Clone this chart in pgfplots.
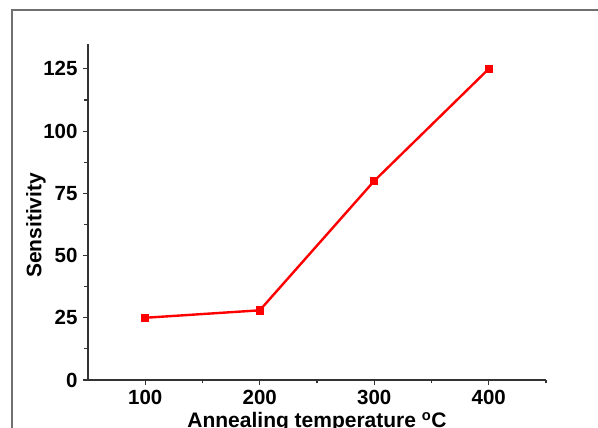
\documentclass[border=0pt]{standalone}
\usepackage{fontspec}
\setmainfont{Liberation Sans}
\usepackage{pgfplots}
\pgfplotsset{compat=1.18}
\definecolor{frame}{HTML}{707070}
\definecolor{axcol}{HTML}{333333}
\begin{document}
\begin{tikzpicture}[x=1pt,y=1pt]
\useasboundingbox (0,0) rectangle (598,428);
\clip (0,0) rectangle (598,428);
% outer frame (only left and top edges fall inside the image)
\draw[frame, line width=1.3pt] (12,0) -- (12,418) -- (600,418);
\begin{axis}[
  at={(88pt,48pt)}, anchor=south west,
  scale only axis, width=458pt, height=336pt,
  xmin=50, xmax=450, ymin=0, ymax=135,
  axis x line*=bottom, axis y line*=left,
  axis line style={axcol, line width=1.5pt},
  xtick={100,200,300,400}, minor xtick={150,250,350,450},
  ytick={0,25,...,125}, minor ytick={12.5,37.5,...,112.5},
  tick align=outside,
  major tick length=5pt, minor tick length=3.5pt,
  tick style={axcol, line width=1.2pt},
  /pgf/number format/assume math mode=true,
  tick label style={font=\fontsize{20.5}{20.5}\selectfont\bfseries, text=black},
  xticklabel style={yshift=-2pt},
  yticklabel style={xshift=-2pt},
  xlabel={Annealing temperature \textsuperscript{o}C},
  ylabel={Sensitivity},
  label style={font=\fontsize{21}{21}\selectfont\bfseries},
  xlabel style={at={(axis description cs:0.5,0)}, anchor=north, yshift=-29pt},
  ylabel style={at={(axis description cs:0,0.46)}, anchor=center, yshift=52pt},
  clip=false,
]
\addplot[red, line width=2.4pt, mark=square*, mark size=3.7pt,
  mark options={solid, fill=red, draw=red, line width=0pt}]
  coordinates {(100,25) (200,28) (300,80) (400,125)};
\end{axis}
\end{tikzpicture}
\end{document}
